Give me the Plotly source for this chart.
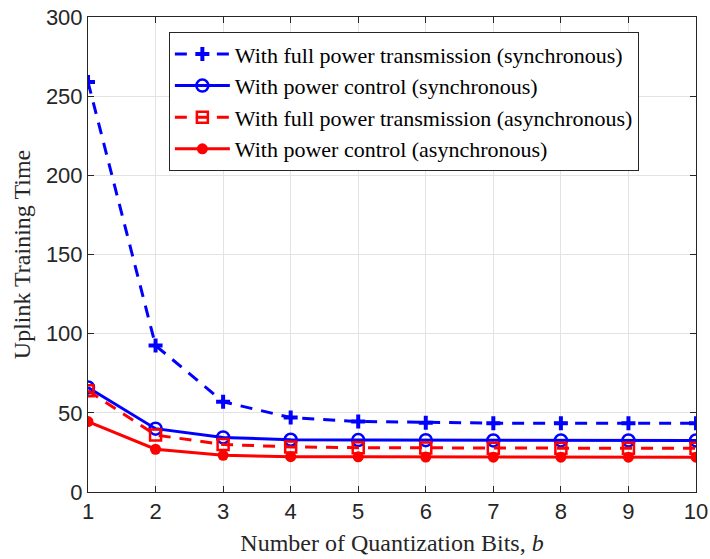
import plotly.graph_objects as go

bits = [1, 2, 3, 4, 5, 6, 7, 8, 9, 10]
sync_full = [259, 92.5, 57, 47, 44.5, 43.8, 43.5, 43.5, 43.5, 43.5]
sync_pc = [66, 40, 34.5, 33, 32.8, 32.7, 32.6, 32.6, 32.6, 32.6]
async_full = [64, 36, 30, 28.5, 28, 27.8, 27.7, 27.6, 27.6, 27.6]
async_pc = [44.5, 27, 23.2, 22.3, 22.2, 22.1, 22.0, 22.0, 22.0, 22.0]

names = [
    "With full power transmission (synchronous)",
    "With power control (synchronous)",
    "With full power transmission (asynchronous)",
    "With power control (asynchronous)",
]

blue = "#0000FF"
red = "#FF0000"
serif = "Liberation Serif, Times New Roman, serif"
sans = "Liberation Sans, Arial, sans-serif"

fig = go.Figure()
fig.add_trace(go.Scatter(x=bits, y=sync_full, name=names[0], mode="lines+markers",
                         line=dict(color=blue, width=3, dash="12px,9px"),
                         marker=dict(symbol="cross-thin", size=10, line=dict(color=blue, width=4))))
fig.add_trace(go.Scatter(x=bits, y=sync_pc, name=names[1], mode="lines+markers",
                         line=dict(color=blue, width=3),
                         marker=dict(symbol="circle-open", size=12, line=dict(color=blue, width=2.5))))
fig.add_trace(go.Scatter(x=bits, y=async_full, name=names[2], mode="lines+markers",
                         line=dict(color=red, width=3, dash="12px,9px"),
                         marker=dict(symbol="square-open", size=11, line=dict(color=red, width=2.5))))
fig.add_trace(go.Scatter(x=bits, y=async_pc, name=names[3], mode="lines+markers",
                         line=dict(color=red, width=3),
                         marker=dict(symbol="circle", size=11, color=red)))

axis_common = dict(
    showgrid=True, gridcolor="#e3e3e3", gridwidth=1,
    showline=True, linecolor="#262626", linewidth=1, mirror="ticks",
    ticks="inside", ticklen=6, tickcolor="#262626",
    tickfont=dict(family=sans, size=22, color="#262626"),
    zeroline=False, automargin=False,
)

fig.update_xaxes(range=[1, 10], tickvals=bits, ticktext=[str(b) for b in bits],
                 title=dict(text="Number of Quantization Bits, <i>b</i>",
                            font=dict(family=serif, size=24, color="#262626"),
                            standoff=10),
                 **axis_common)
fig.update_yaxes(range=[0, 300], tickvals=[0, 50, 100, 150, 200, 250, 300],
                 title=dict(text="Uplink Training Time",
                            font=dict(family=serif, size=24, color="#262626"),
                            standoff=8),
                 **axis_common)

fig.update_layout(
    width=710, height=559,
    margin=dict(l=88, r=14, t=17, b=67, autoexpand=False),
    plot_bgcolor="white", paper_bgcolor="white",
    legend=dict(x=0.133, y=0.968, xanchor="left", yanchor="top",
                bgcolor="white", bordercolor="#262626", borderwidth=1,
                font=dict(family=serif, size=22, color="black"),
                itemwidth=55, tracegroupgap=0),
    showlegend=True,
)

fig.write_html("out.html", config={"displayModeBar": False},
               post_script="document.body.style.margin='0';document.body.style.overflow='hidden';")
